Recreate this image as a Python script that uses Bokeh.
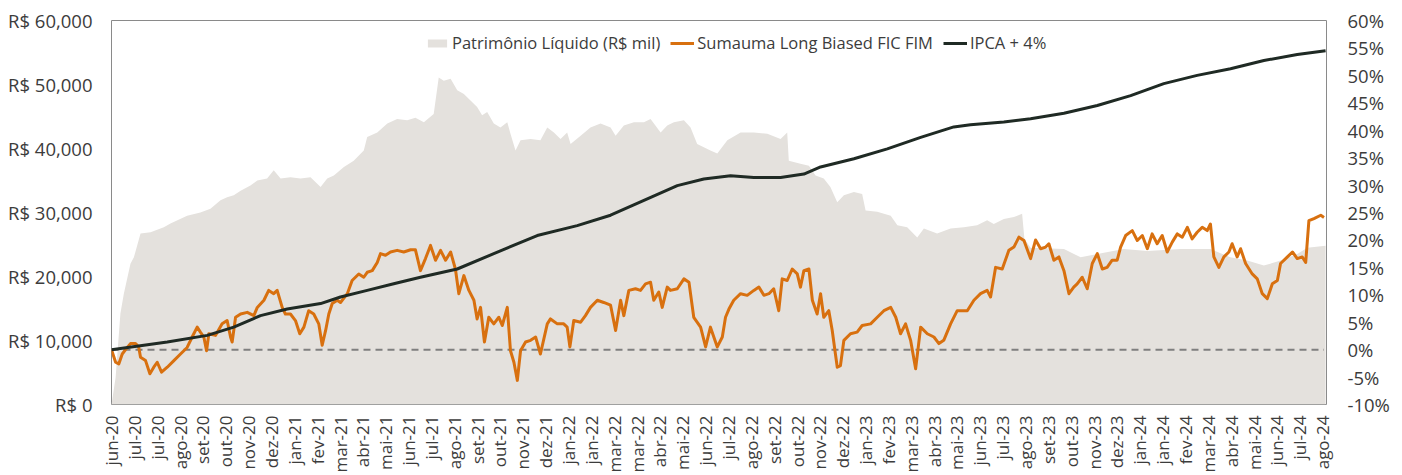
import math
from bokeh.plotting import figure
from bokeh.models import (Range1d, LinearAxis, FixedTicker, Legend, LegendItem,
                          CustomJSTickFormatter)
from bokeh.embed import file_html
from bokeh.resources import INLINE

# ---------------- data ----------------
month_labels = [
    "jun-20", "jul-20", "jul-20", "ago-20", "set-20", "out-20", "nov-20", "dez-20",
    "jan-21", "fev-21", "mar-21", "abr-21", "mai-21", "jun-21", "jul-21", "ago-21",
    "set-21", "out-21", "nov-21", "dez-21",
    "jan-22", "jan-22", "mar-22", "mar-22", "abr-22", "mai-22", "jun-22", "jul-22",
    "ago-22", "set-22", "out-22", "nov-22", "dez-22",
    "jan-23", "fev-23", "mar-23", "abr-23", "mai-23", "jun-23", "jul-23", "ago-23",
    "set-23", "out-23", "nov-23", "dez-23",
    "jan-24", "jan-24", "fev-24", "mar-24", "abr-24", "mai-24", "jun-24", "jul-24", "ago-24",
]

left_ticks = [0, 10000, 20000, 30000, 40000, 50000, 60000]
right_ticks = [-10, -5, 0, 5, 10, 15, 20, 25, 30, 35, 40, 45, 50, 55, 60]

# time in month-tick units (0 = jun-20)
pl_t = [0.00, 0.18, 0.39, 0.54, 0.83, 0.98, 1.27, 1.71, 2.29, 2.58,
        3.31, 3.89, 4.33, 4.77, 5.06, 5.35, 5.65, 6.08, 6.38, 6.81,
        7.10, 7.40, 7.83, 8.27, 8.71, 9.15, 9.44, 9.73, 10.17, 10.60,
        11.04, 11.19, 11.63, 12.07, 12.50, 12.94, 13.30, 13.67, 14.10, 14.32,
        14.54, 14.84, 15.13, 15.42, 15.71, 16.00, 16.22, 16.44, 16.73, 17.02,
        17.32, 17.46, 17.68, 17.90, 18.34, 18.77, 19.07, 19.36, 19.65, 19.94,
        20.09, 20.53, 20.96, 21.40, 21.84, 22.06, 22.42, 22.86, 23.30, 23.59,
        24.03, 24.32, 24.61, 25.05, 25.34, 25.63, 25.92, 26.21, 26.51, 26.95,
        27.53, 28.11, 28.70, 29.28, 29.57, 29.64, 30.15, 30.52, 30.81, 31.17,
        31.46, 31.76, 32.05, 32.49, 32.85, 33.00, 33.51, 34.10, 34.39, 34.82,
        35.26, 35.55, 36.13, 36.72, 37.30, 37.88, 38.32, 38.61, 39.05, 39.49,
        39.85, 39.95, 40.22, 41.68, 42.41, 43.14, 44.30, 45.33, 46.78, 48.09,
        48.96, 49.70, 50.43, 51.16, 51.89, 52.33, 53.13]
pl_value = [0, 4200, 14200, 17300, 22000, 23000, 26700, 26900, 27700, 28300,
            29500, 30000, 30600, 31900, 32400, 32700, 33400, 34200, 35000, 35300,
            36600, 35300, 35500, 35300, 35500, 34000, 35300, 35800, 37100, 38100,
            39700, 41800, 42500, 43900, 44600, 44400, 44800, 44100, 45400, 51100,
            50600, 50900, 49100, 48500, 47500, 46500, 45200, 45700, 43900, 43300,
            44100, 42300, 39700, 41300, 41500, 41300, 43300, 42500, 41500, 42500,
            40700, 42000, 43300, 43900, 43300, 42000, 43600, 44100, 44100, 44600,
            42500, 43600, 44100, 44400, 43300, 40700, 40200, 39700, 39200, 41300,
            42500, 42500, 42300, 41500, 42500, 38100, 37600, 37300, 35800, 35300,
            34000, 31600, 32700, 33200, 32900, 30300, 30100, 29500, 28000, 27700,
            26100, 27500, 26700, 27500, 27700, 28000, 28800, 28200, 29000, 29300,
            29800, 25900, 24500, 24300, 23000, 23500, 24300, 24000, 24300, 24300,
            23000, 22500, 21700, 22500, 23500, 24500, 24800]

fund_t = [0.00, 0.18, 0.32, 0.47, 0.69, 0.83, 1.05, 1.19, 1.27, 1.49,
          1.68, 1.85, 2.00, 2.19, 2.44, 2.73, 3.02, 3.31, 3.53, 3.75,
          3.89, 4.04, 4.16, 4.26, 4.55, 4.84, 5.06, 5.21, 5.28, 5.43,
          5.65, 5.94, 6.23, 6.38, 6.67, 6.88, 7.10, 7.25, 7.47, 7.61,
          7.83, 8.05, 8.24, 8.42, 8.63, 8.85, 9.07, 9.22, 9.37, 9.51,
          9.66, 9.88, 10.02, 10.32, 10.53, 10.82, 11.04, 11.19, 11.41, 11.63,
          11.77, 11.99, 12.21, 12.50, 12.79, 13.09, 13.30, 13.52, 13.74, 13.96,
          14.18, 14.40, 14.62, 14.84, 15.05, 15.20, 15.42, 15.64, 15.86, 16.00,
          16.15, 16.32, 16.51, 16.73, 16.95, 17.10, 17.32, 17.46, 17.61, 17.76,
          17.90, 18.12, 18.34, 18.56, 18.77, 19.07, 19.21, 19.51, 19.79, 19.94,
          20.06, 20.23, 20.53, 20.74, 20.96, 21.26, 21.54, 21.84, 22.06, 22.28,
          22.42, 22.64, 22.93, 23.15, 23.37, 23.59, 23.73, 23.95, 24.10, 24.32,
          24.46, 24.76, 25.05, 25.27, 25.48, 25.78, 26.00, 26.21, 26.51, 26.73,
          26.87, 27.02, 27.23, 27.53, 27.82, 28.11, 28.33, 28.55, 28.77, 28.98,
          29.20, 29.35, 29.57, 29.79, 30.01, 30.15, 30.30, 30.52, 30.67, 30.88,
          31.03, 31.17, 31.39, 31.54, 31.68, 31.76, 31.90, 32.05, 32.34, 32.63,
          32.85, 33.22, 33.51, 33.80, 34.10, 34.32, 34.53, 34.75, 34.97, 35.19,
          35.41, 35.70, 35.99, 36.21, 36.42, 36.72, 37.01, 37.45, 37.74, 38.03,
          38.32, 38.47, 38.69, 38.98, 39.27, 39.49, 39.71, 39.93, 40.22, 40.44,
          40.66, 40.88, 41.02, 41.24, 41.46, 41.68, 41.90, 42.11, 42.26, 42.48,
          42.70, 42.92, 43.14, 43.36, 43.57, 43.79, 44.01, 44.16, 44.38, 44.67,
          44.89, 45.11, 45.33, 45.54, 45.76, 45.98, 46.20, 46.42, 46.64, 46.86,
          47.08, 47.29, 47.51, 47.73, 47.95, 48.09, 48.24, 48.46, 48.68, 48.90,
          49.04, 49.26, 49.41, 49.63, 49.92, 50.14, 50.36, 50.58, 50.80, 51.02,
          51.16, 51.46, 51.68, 51.89, 52.11, 52.26, 52.40, 52.62, 52.92, 53.06]
fund_pct = [0.0, -2.3, -2.6, -0.8, 0.4, 1.1, 1.1, 0.5, -1.4, -2.0,
            -4.4, -3.2, -2.3, -4.1, -3.2, -2.0, -0.8, 0.4, 2.3, 4.1,
            3.2, 2.3, -0.2, 2.9, 2.6, 4.7, 5.3, 2.3, 1.4, 5.9,
            6.5, 6.8, 6.2, 7.7, 9.0, 10.8, 10.2, 10.8, 7.7, 6.5,
            6.5, 5.3, 2.9, 4.1, 7.1, 6.5, 4.7, 0.8, 3.5, 6.5,
            8.4, 9.0, 8.6, 10.2, 12.6, 13.8, 13.2, 14.1, 14.4, 15.9,
            17.5, 17.2, 17.8, 18.1, 17.8, 18.2, 18.2, 14.4, 16.6, 19.0,
            16.3, 18.1, 16.3, 17.8, 14.7, 10.2, 13.5, 10.8, 9.0, 5.6,
            7.7, 1.4, 5.9, 4.7, 5.9, 4.4, 7.7, -0.2, -2.3, -5.6,
            -0.2, 1.4, 1.7, 2.3, -0.8, 4.7, 5.6, 4.7, 4.7, 4.1,
            0.5, 5.3, 5.0, 6.2, 7.7, 9.0, 8.6, 8.1, 3.5, 9.0,
            6.2, 10.8, 11.1, 10.8, 12.0, 12.3, 9.0, 10.5, 7.7, 11.4,
            10.8, 11.1, 12.9, 12.3, 5.9, 4.1, 0.5, 4.1, 0.5, 2.3,
            5.9, 7.4, 9.0, 10.2, 9.9, 10.8, 11.4, 9.9, 10.2, 11.1,
            7.1, 12.9, 12.6, 14.7, 13.8, 11.4, 14.4, 14.7, 9.0, 6.5,
            10.2, 5.9, 7.1, 3.5, -0.8, -3.2, -2.9, 1.7, 2.9, 3.2,
            4.4, 4.7, 5.9, 7.1, 7.7, 5.9, 2.9, 4.7, 1.7, -3.5,
            4.1, 2.9, 2.3, 1.1, 1.7, 4.7, 7.1, 7.1, 9.0, 10.2,
            10.8, 9.6, 15.0, 14.7, 18.1, 18.7, 20.5, 19.9, 16.6, 20.0,
            18.4, 18.7, 19.3, 16.3, 16.9, 14.4, 10.2, 11.4, 12.0, 13.2,
            11.1, 15.7, 17.5, 14.7, 15.0, 16.3, 16.3, 18.7, 20.8, 21.7,
            19.9, 20.8, 18.4, 21.1, 19.3, 20.8, 17.8, 19.6, 21.1, 20.5,
            22.3, 20.2, 21.4, 22.3, 21.7, 22.9, 16.9, 15.0, 16.9, 17.8,
            19.3, 16.9, 18.4, 15.7, 13.8, 12.9, 10.2, 9.3, 12.0, 12.6,
            15.7, 16.9, 17.8, 16.6, 16.9, 15.9, 23.5, 23.9, 24.5, 24.1]

ipca_t = [0.00, 2.44, 4.19, 5.35, 6.52, 7.69, 9.15, 10.02, 11.19, 12.35,
          13.52, 15.13, 16.73, 18.63, 20.38, 21.84, 23.30, 24.76, 25.92, 27.09,
          28.11, 29.28, 30.30, 31.03, 32.49, 33.95, 35.41, 36.86, 37.59, 39.05,
          40.22, 41.68, 43.14, 44.60, 46.05, 47.51, 48.97, 50.43, 51.89, 53.13]
ipca_pct = [0.0, 1.4, 2.6, 4.1, 6.2, 7.4, 8.4, 9.6, 10.8, 12.0,
            13.2, 14.7, 17.5, 20.8, 22.6, 24.5, 27.2, 29.9, 31.1, 31.7,
            31.4, 31.4, 32.0, 33.3, 34.8, 36.6, 38.7, 40.6, 41.0, 41.5,
            42.1, 43.1, 44.5, 46.3, 48.5, 50.0, 51.2, 52.7, 53.8, 54.5]

# ---------------- styling ----------------
FONT = "Open Sans"
TXT = "#3c3c3c"
AREA = "#e4e1dd"
ORANGE = "#d8700f"
DARK = "#1f2a24"

p = figure(width=1402, height=475, output_backend="svg", toolbar_location=None,
           x_range=Range1d(0, 53.17), y_range=Range1d(0, 60000),
           min_border_left=111, min_border_right=76, min_border_top=20,
           min_border_bottom=71, background_fill_color="white",
           border_fill_color="white")
p.extra_y_ranges = {"pct": Range1d(-10, 60)}
p.grid.visible = False
p.outline_line_color = "#8a8a8a"
p.outline_line_width = 1

area_r = p.varea(x=pl_t, y1=0, y2=pl_value, fill_color=AREA)
zero_r = p.line(x=[fund_t[0], fund_t[-1]], y=[0, 0], y_range_name="pct",
                line_color="#7f7f7f", line_width=2, line_dash="7 5")
fund_r = p.line(x=fund_t, y=fund_pct, y_range_name="pct", line_color=ORANGE,
                line_width=3, line_join="round")
ipca_r = p.line(x=ipca_t, y=ipca_pct, y_range_name="pct", line_color=DARK,
                line_width=3, line_join="round")

def style_axis(ax, size):
    ax.axis_line_color = None
    ax.major_tick_line_color = None
    ax.minor_tick_line_color = None
    ax.major_label_text_font = FONT
    ax.major_label_text_font_size = size
    ax.major_label_text_color = TXT

# x axis
xax = p.xaxis[0]
style_axis(xax, "17px")
xax.ticker = FixedTicker(ticks=list(range(len(month_labels))))
xax.formatter = CustomJSTickFormatter(args=dict(labels=month_labels),
                                      code="const i = Math.round(tick); return labels[i] || '';")
xax.major_label_orientation = math.pi / 2
xax.major_label_standoff = 5

# left axis
yax = p.yaxis[0]
style_axis(yax, "18.5px")
yax.ticker = FixedTicker(ticks=left_ticks)
yax.formatter = CustomJSTickFormatter(code="return 'R$ ' + tick.toLocaleString('en-US');")
yax.major_label_standoff = 13

# right axis
rax = LinearAxis(y_range_name="pct")
style_axis(rax, "18.5px")
rax.ticker = FixedTicker(ticks=right_ticks)
rax.formatter = CustomJSTickFormatter(code="return tick + '%';")
rax.major_label_standoff = 15
p.add_layout(rax, "right")

legend = Legend(items=[
    LegendItem(label="Patrimônio Líquido (R$ mil)", renderers=[area_r]),
    LegendItem(label="Sumauma Long Biased FIC FIM", renderers=[fund_r]),
    LegendItem(label="IPCA + 4%", renderers=[ipca_r]),
], orientation="horizontal", location=(314, 350), border_line_color=None,
    background_fill_alpha=0, label_text_font=FONT, label_text_font_size="16.5px",
    label_text_color=TXT, glyph_width=24, glyph_height=10, label_height=20,
    label_standoff=3, spacing=10, padding=0, margin=0)
p.add_layout(legend)

open("out.html", "w").write(file_html(p, INLINE))
